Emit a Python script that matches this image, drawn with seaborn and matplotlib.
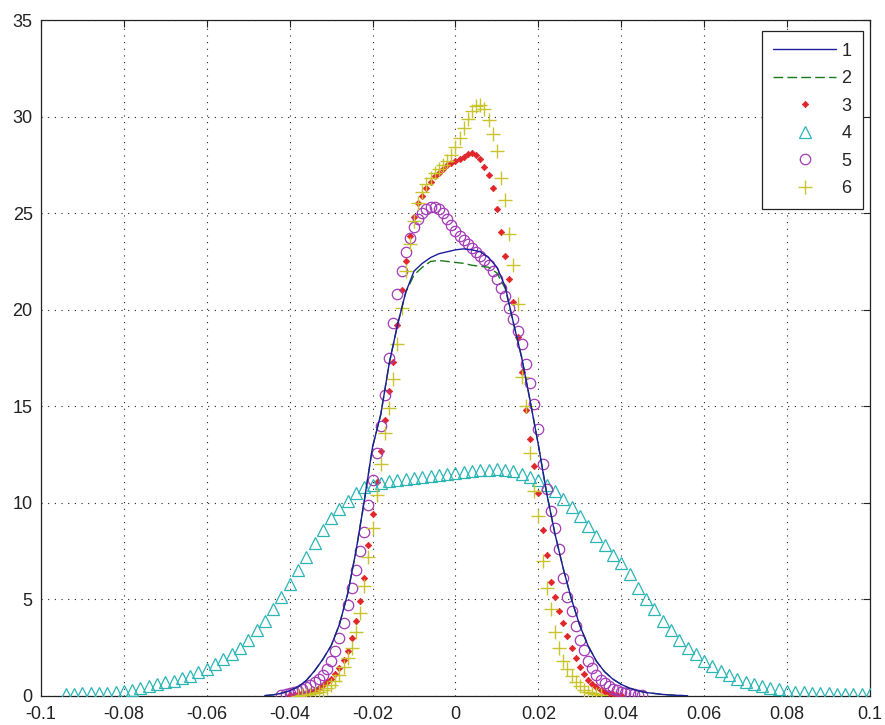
import numpy as np
import pandas as pd
import matplotlib
matplotlib.use("Agg")
import matplotlib.pyplot as plt
import seaborn as sns

# sample positions of each series
x1 = np.round(np.arange(-0.046, 0.0561, 0.002), 3)
x3 = np.round(np.arange(-0.040, 0.0405, 0.001), 3)
x4 = np.round(np.arange(-0.094, 0.1001, 0.002), 3)
x5 = np.round(np.arange(-0.042, 0.0455, 0.001), 3)
x6 = np.round(np.arange(-0.038, 0.0355, 0.001), 3)

y1 = [0.02, 0.06, 0.14, 0.27, 0.47, 0.8, 1.3, 1.9, 2.6, 3.7, 5.3, 7.5, 10.1,
      12.9, 14.6, 17.2, 19.2, 20.9, 22.0, 22.4, 22.7, 22.9, 23.0,
      23.1, 23.15, 23.1, 23.0, 22.7, 22.2, 21.2, 19.3, 17.5, 15.3, 13.0, 10.5,
      8.4, 6.6, 5.0, 3.65, 2.6, 1.8, 1.25, 0.87, 0.6, 0.4, 0.27, 0.18, 0.13,
      0.08, 0.05, 0.03, 0.01]
y2 = [0.02, 0.06, 0.14, 0.27, 0.47, 0.8, 1.3, 1.9, 2.6, 3.7, 5.3, 7.5, 10.1,
      12.9, 14.6, 17.2, 19.2, 20.9, 21.8, 22.2, 22.5, 22.55, 22.5,
      22.45, 22.4, 22.3, 22.25, 22.2, 21.9, 21.1, 19.3, 17.5, 15.3, 13.0, 10.5,
      8.4, 6.6, 5.0, 3.65, 2.6, 1.8, 1.25, 0.87, 0.6, 0.4, 0.27, 0.18, 0.13,
      0.08, 0.05, 0.03, 0.01]
y3 = [0.04, 0.06, 0.09, 0.13, 0.18, 0.24, 0.32, 0.42, 0.55, 0.7,
      0.9, 1.15, 1.45, 1.85, 2.35, 3.0, 3.9, 4.9, 6.1, 7.8,
      9.4, 11.1, 12.7, 14.3, 15.8, 17.3, 19.2, 21.0, 22.5, 23.8,
      24.8, 25.5, 25.9, 26.3, 26.6, 26.9, 27.1, 27.3, 27.5, 27.6,
      27.7, 27.8, 27.9, 28.05, 28.1, 28.0, 27.8, 27.4, 27.0, 26.3,
      25.2, 24.0, 22.8, 21.6, 20.4, 18.6, 16.8, 14.8, 13.3, 11.9,
      10.5, 8.6, 7.3, 5.9, 5.1, 4.4, 3.8, 3.1, 2.5, 1.95,
      1.5, 1.15, 0.85, 0.62, 0.45, 0.32, 0.22, 0.15, 0.1, 0.06, 0.04]
y4 = [0.12, 0.12, 0.13, 0.13, 0.14, 0.16, 0.19, 0.24, 0.31, 0.4,
      0.5, 0.6, 0.7, 0.8, 0.92, 1.05, 1.22, 1.4, 1.64, 1.9,
      2.18, 2.5, 2.9, 3.4, 3.9, 4.5, 5.1, 5.8, 6.5, 7.2,
      7.9, 8.6, 9.2, 9.7, 10.1, 10.5, 10.8, 10.95, 11.05, 11.15,
      11.2, 11.25, 11.3, 11.35, 11.4, 11.45, 11.5,
      11.55, 11.6, 11.65, 11.7, 11.7, 11.75, 11.7, 11.65, 11.5, 11.35,
      11.2, 10.9, 10.6, 10.2, 9.8, 9.3, 8.8, 8.3, 7.8, 7.3,
      6.9, 6.3, 5.6, 5.0, 4.5, 3.9, 3.4, 2.9, 2.5, 2.15,
      1.8, 1.55, 1.3, 1.1, 0.9, 0.75, 0.62, 0.5, 0.42, 0.34,
      0.28, 0.23, 0.19, 0.16, 0.14, 0.13, 0.12, 0.12, 0.11, 0.11, 0.1]
y5 = [0.05, 0.1, 0.15, 0.2, 0.27, 0.35, 0.45, 0.56, 0.7, 0.88,
      1.1, 1.4, 1.8, 2.35, 3.0, 3.8, 4.7, 5.6, 6.5, 7.5,
      8.5, 9.9, 11.2, 12.6, 14.0, 15.6, 17.5, 19.3, 20.8, 22.0,
      23.0, 23.7, 24.3, 24.7, 25.0, 25.2, 25.3, 25.3, 25.2, 25.0,
      24.7, 24.4,
      24.1, 23.8, 23.6, 23.4, 23.2, 23.0, 22.8, 22.6, 22.3, 22.0,
      21.6, 21.1, 20.7, 20.1, 19.5, 18.9, 18.2, 17.2, 16.2, 15.1,
      13.8, 12.0, 10.7, 9.6, 8.7, 7.6, 6.1, 5.1, 4.4, 3.6,
      2.9, 2.4, 1.8, 1.45, 1.1, 0.85, 0.65, 0.5, 0.38, 0.3,
      0.22, 0.17, 0.13, 0.1, 0.07, 0.05]
y6 = [0.02, 0.04, 0.07, 0.1, 0.15, 0.22, 0.3, 0.42, 0.58, 0.8,
      1.1, 1.5, 1.95, 2.5, 3.3, 4.3, 5.7, 7.2, 8.7, 10.4,
      12.0, 13.6, 14.9, 16.4, 18.2, 20.1, 22.0, 23.4, 24.6, 25.5,
      26.1, 26.5, 26.8, 27.1, 27.3, 27.5, 27.7, 28.0,
      28.4, 28.9, 29.4, 29.9, 30.3, 30.55, 30.6, 30.4, 29.8, 29.1,
      28.2, 26.8, 25.7, 23.9, 22.3, 20.3, 16.5, 15.0, 12.6, 10.6,
      9.3, 7.0, 5.6, 4.5, 3.3, 2.5, 1.8, 1.4, 1.05, 0.75,
      0.5, 0.33, 0.22, 0.15, 0.08, 0.03]

labels = ["1", "2", "3", "4", "5", "6"]
xticks = [-0.1, -0.08, -0.06, -0.04, -0.02, 0, 0.02, 0.04, 0.06, 0.08, 0.1]
xticklabels = ["-0.1", "-0.08", "-0.06", "-0.04", "-0.02", "0",
               "0.02", "0.04", "0.06", "0.08", "0.1"]
yticks = [0, 5, 10, 15, 20, 25, 30, 35]

sns.set_theme(style="white")
plt.rcParams["font.family"] = ["Liberation Sans", "DejaVu Sans"]

fig, ax = plt.subplots(figsize=(8.85, 7.25), dpi=100)
fig.subplots_adjust(left=0.0463, right=0.983, bottom=0.04, top=0.9724)

styles = [
    dict(color="#1c1c9c", lw=1.0, zorder=5),
    dict(color="#1a7a1a", lw=1.0, dashes=(7, 3), zorder=4),
    dict(color="#e0262a", linestyle="", marker="D", markersize=3.3,
         mec="#e0262a", mew=0.5, zorder=3),
    dict(color="#2bb5b5", linestyle="", marker="^", markersize=8.5,
         mfc="none", mec="#2bb5b5", mew=0.9, zorder=3),
    dict(color="#a43ab8", linestyle="", marker="o", markersize=7.5,
         mfc="none", mec="#a43ab8", mew=0.9, zorder=3),
    dict(color="#c9c42a", linestyle="", marker="+", markersize=9.5,
         mec="#c9c42a", mew=1.0, zorder=3),
]
series = [(x1, y1), (x1, y2), (x3, y3), (x4, y4), (x5, y5), (x6, y6)]

for (xs, ys), lab, st in zip(series, labels, styles):
    df = pd.DataFrame({"x": xs, "y": ys})
    sns.lineplot(data=df, x="x", y="y", ax=ax, label=lab,
                 errorbar=None, sort=False, **st)

ax.set_xlim(-0.1, 0.1)
ax.set_ylim(0, 35)
ax.set_xticks(xticks)
ax.set_xticklabels(xticklabels)
ax.set_yticks(yticks)
ax.set_xlabel("")
ax.set_ylabel("")

ax.grid(True, color="#222222", linestyle=(0, (1, 5)), linewidth=0.8)
ax.set_axisbelow(True)
for sp in ax.spines.values():
    sp.set_color("#222222")
    sp.set_linewidth(0.9)
ax.tick_params(direction="in", length=5, width=0.8, top=True, right=True,
               labelsize=13, colors="#222222", labelcolor="#222222")
ax.tick_params(axis="x", pad=7.5)
ax.tick_params(axis="y", pad=6)

leg = ax.legend(loc="upper right", bbox_to_anchor=(0.9916, 0.9837),
                borderaxespad=0, frameon=True, fancybox=False,
                edgecolor="#222222", framealpha=1, fontsize=13,
                handlelength=3.45, handletextpad=0.3, borderpad=0.65,
                labelspacing=0.58)
leg.get_frame().set_linewidth(0.9)

fig.savefig("out.png", dpi=100)
